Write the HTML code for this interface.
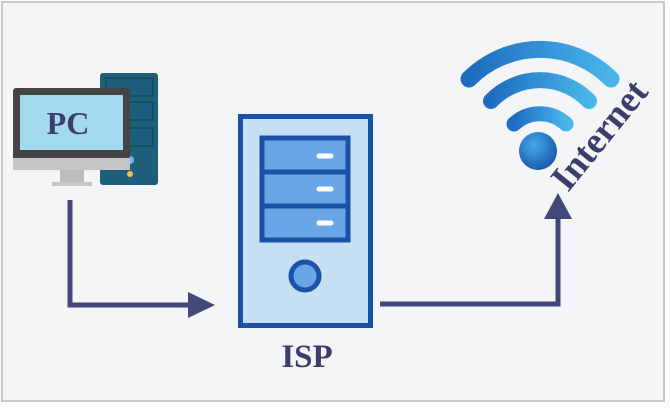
<!DOCTYPE html>
<html><head><style>
body{margin:0;width:670px;height:406px;background:#fff;overflow:hidden}
</style></head><body>
<svg width="670" height="406" viewBox="0 0 670 406" xmlns="http://www.w3.org/2000/svg">
<defs>
<linearGradient id="wg" x1="0" y1="0" x2="1" y2="0"><stop offset="0" stop-color="#1d6cc0"/><stop offset="1" stop-color="#48b6ea"/></linearGradient>
<radialGradient id="dg" cx="0.4" cy="0.35" r="0.7"><stop offset="0" stop-color="#4aa8e8"/><stop offset="1" stop-color="#1557a8"/></radialGradient>
</defs>
<rect x="2" y="2" width="662" height="399" fill="#f4f5f6" stroke="#c9c9c9" stroke-width="2"/>
<!-- PC tower -->
<rect x="100" y="73" width="58" height="112" rx="3" fill="#1e5f7c"/>
<rect x="106" y="78" width="47" height="18" fill="none" stroke="#164a60" stroke-width="1.5"/>
<rect x="106" y="102" width="47" height="18" fill="none" stroke="#164a60" stroke-width="1.5"/>
<rect x="106" y="128" width="47" height="18" fill="none" stroke="#164a60" stroke-width="1.5"/>
<circle cx="130" cy="160" r="4" fill="#6fb6f0"/>
<circle cx="130" cy="174" r="3" fill="#e6c34a"/>
<!-- monitor -->
<rect x="13" y="88" width="117" height="82" rx="3" fill="#444"/>
<rect x="20" y="95" width="103" height="55" fill="#a3d9ee"/>
<rect x="13" y="158" width="117" height="12" fill="#c6c6c6"/>
<rect x="60" y="170" width="24" height="13" fill="#bdbdbd"/>
<rect x="52" y="182" width="40" height="4" fill="#c8c8c8"/>
<text x="68" y="134" font-family="Liberation Serif" font-weight="bold" font-size="32" fill="#3b3f6b" text-anchor="middle">PC</text>
<!-- arrows -->
<polyline points="70,200 70,305 192,305" fill="none" stroke="#44477a" stroke-width="5"/>
<polygon points="188,292 215,305 188,318" fill="#44477a"/>
<polyline points="380,304 558,304 558,215" fill="none" stroke="#44477a" stroke-width="5"/>
<polygon points="544,219 558,193 572,219" fill="#44477a"/>
<!-- server -->
<rect x="240.5" y="116.5" width="130" height="209" fill="#c7dff3" stroke="#1a52a8" stroke-width="5"/>
<rect x="262" y="138" width="86" height="102" fill="#6aa6e6" stroke="#1a52a8" stroke-width="5"/>
<line x1="262" y1="172" x2="348" y2="172" stroke="#1a52a8" stroke-width="5"/>
<line x1="262" y1="206" x2="348" y2="206" stroke="#1a52a8" stroke-width="5"/>
<g stroke="#fff" stroke-width="5" stroke-linecap="round"><line x1="319" y1="156" x2="331" y2="156"/><line x1="319" y1="189" x2="331" y2="189"/><line x1="319" y1="223" x2="331" y2="223"/></g>
<circle cx="305" cy="276" r="14" fill="#6aa6e6" stroke="#1a52a8" stroke-width="5"/>
<text x="307" y="367" font-family="Liberation Serif" font-weight="bold" font-size="33" fill="#3b3f6b" text-anchor="middle">ISP</text>
<!-- wifi -->
<g fill="none" stroke="url(#wg)" stroke-linecap="round">
<path d="M469,79 A100,100 0 0 1 611,79" stroke-width="17"/>
<path d="M491,101 A68,68 0 0 1 589,101" stroke-width="16"/>
<path d="M514,124 A38,38 0 0 1 566,124" stroke-width="15"/>
</g>
<circle cx="538" cy="151" r="19" fill="url(#dg)"/>
<text transform="translate(568,193) rotate(-51)" font-family="Liberation Serif" font-weight="bold" font-size="37" fill="#3b3f6b">Internet</text>
</svg>
</body></html>
